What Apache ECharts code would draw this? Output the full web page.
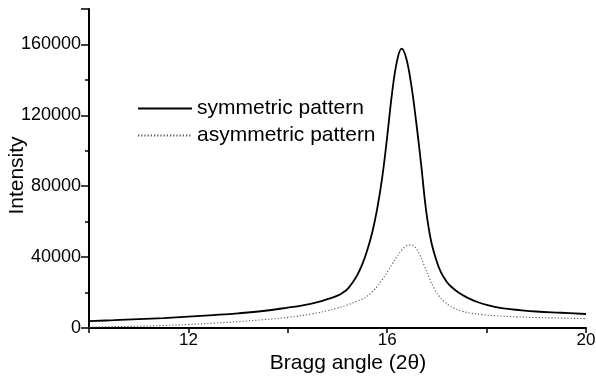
<!DOCTYPE html>
<html>
<head>
<meta charset="utf-8">
<script src="https://cdn.jsdelivr.net/npm/echarts@6/dist/echarts.min.js"></script>
<style>
  html, body { margin: 0; padding: 0; background: #fff; }
  #chart { width: 596px; height: 379px; }
</style>
</head>
<body>
<div id="chart"></div>
<script>
// Diffraction peak profiles: intensity versus Bragg angle (2θ)
const symAngle = [10.0, 10.5, 11.0, 11.5, 12.0, 12.5, 13.0, 13.5, 14.0, 14.3, 14.6, 14.8, 15.0, 15.1, 15.2, 15.3, 15.4, 15.5, 15.6, 15.7, 15.8, 15.9, 16.0, 16.1, 16.2, 16.29, 16.38, 16.48, 16.58, 16.68, 16.78, 16.88, 16.98, 17.08, 17.2, 17.3, 17.45, 17.6, 17.8, 18.0, 18.3, 18.7, 19.0, 19.5, 20.0];
const symIntensity = [3900, 4400, 5000, 5600, 6400, 7300, 8300, 9600, 11500, 12800, 14600, 16300, 18300, 19800, 22000, 25500, 30000, 36000, 44000, 54000, 67500, 85000, 108000, 133000, 151000, 157600, 152500, 138000, 117000, 93000, 67000, 49500, 39000, 31500, 26000, 23000, 19700, 17300, 14800, 13000, 11200, 10000, 9300, 8600, 7900];

const asymAngle = [10.0, 10.5, 11.0, 11.5, 12.0, 12.5, 13.0, 13.5, 14.0, 14.5, 14.8, 15.0, 15.2, 15.4, 15.5, 15.6, 15.7, 15.8, 15.9, 16.0, 16.1, 16.2, 16.3, 16.4, 16.47, 16.55, 16.65, 16.75, 16.85, 16.95, 17.05, 17.15, 17.25, 17.35, 17.5, 17.7, 17.9, 18.2, 18.6, 19.0, 19.5, 20.0];
const asymIntensity = [500, 750, 1000, 1400, 2000, 2700, 3600, 4700, 6000, 8000, 9800, 11300, 13000, 15200, 16300, 18000, 20500, 23500, 27300, 31500, 36000, 40500, 44200, 46500, 46800, 46000, 41500, 35000, 28000, 22000, 17800, 14800, 12700, 11100, 9500, 8300, 7600, 6900, 6300, 5900, 5600, 5300];

const xTickLabels = [12, 16, 20];
const yTickLabels = [0, 40000, 80000, 120000, 160000];

const seriesNames = ['symmetric pattern', 'asymmetric pattern'];

const pairs = (xs, ys) => xs.map((x, i) => [x, ys[i]]);

const font = '"Liberation Sans", Arial, Helvetica, sans-serif';

const chart = echarts.init(document.getElementById('chart'), null, { renderer: 'canvas' });

chart.setOption({
  animation: false,
  backgroundColor: '#ffffff',
  grid: { left: 89, right: 10, top: 9, bottom: 51, containLabel: false, outerBoundsMode: 'none' },
  legend: {
    orient: 'vertical',
    left: 137,
    top: 98,
    padding: 0,
    itemWidth: 54,
    itemHeight: 12,
    itemGap: 6,
    itemStyle: { opacity: 0 },
    textStyle: { fontFamily: font, fontSize: 21, color: '#000' },
    data: seriesNames
  },
  xAxis: [{
    type: 'value',
    min: 10,
    max: 20,
    interval: 2,
    name: 'Bragg angle (2θ)',
    nameLocation: 'middle',
    nameGap: 25,
    nameMoveOverlap: false,
    nameTextStyle: { fontFamily: font, fontSize: 21, color: '#000', padding: [0, 0, 0, 21] },
    axisLine: { show: true, onZero: false, lineStyle: { color: '#000', width: 2 } },
    axisTick: { show: true, length: 5, lineStyle: { color: '#000', width: 1.5 } },
    axisLabel: {
      margin: 4,
      fontFamily: font,
      fontSize: 17,
      color: '#000',
      formatter: v => (xTickLabels.includes(v) ? String(v) : '')
    },
    splitLine: { show: false }
  }],
  yAxis: [{
    type: 'value',
    min: 0,
    max: 180000,
    interval: 40000,
    name: 'Intensity',
    nameLocation: 'middle',
    nameGap: 61,
    nameMoveOverlap: false,
    nameTextStyle: { fontFamily: font, fontSize: 21, color: '#000', padding: [0, 14, 0, 0] },
    axisLine: { show: true, onZero: false, lineStyle: { color: '#000', width: 2 } },
    axisTick: { show: true, length: 8, lineStyle: { color: '#000', width: 1.5 } },
    axisLabel: {
      margin: 8,
      fontFamily: font,
      fontSize: 18,
      color: '#000',
      formatter: v => (yTickLabels.includes(v) ? String(v) : '')
    },
    splitLine: { show: false }
  }, {
    // minor ticks every 20000
    type: 'value',
    min: 0,
    max: 180000,
    interval: 20000,
    position: 'left',
    offset: 0,
    axisLine: { show: false },
    axisTick: { show: true, length: 4, lineStyle: { color: '#000', width: 1.5 } },
    axisLabel: { show: false },
    splitLine: { show: false }
  }],
  series: [{
    name: seriesNames[0],
    type: 'line',
    data: pairs(symAngle, symIntensity),
    symbol: 'none',
    smooth: 0.4,
    lineStyle: { color: '#000', width: 1.8 },
    itemStyle: { color: '#000' }
  }, {
    name: seriesNames[1],
    type: 'line',
    data: pairs(asymAngle, asymIntensity),
    symbol: 'none',
    smooth: 0.4,
    lineStyle: { color: '#555', width: 1.1, type: [1.2, 2] },
    itemStyle: { color: '#555' }
  }]
});
</script>
</body>
</html>
